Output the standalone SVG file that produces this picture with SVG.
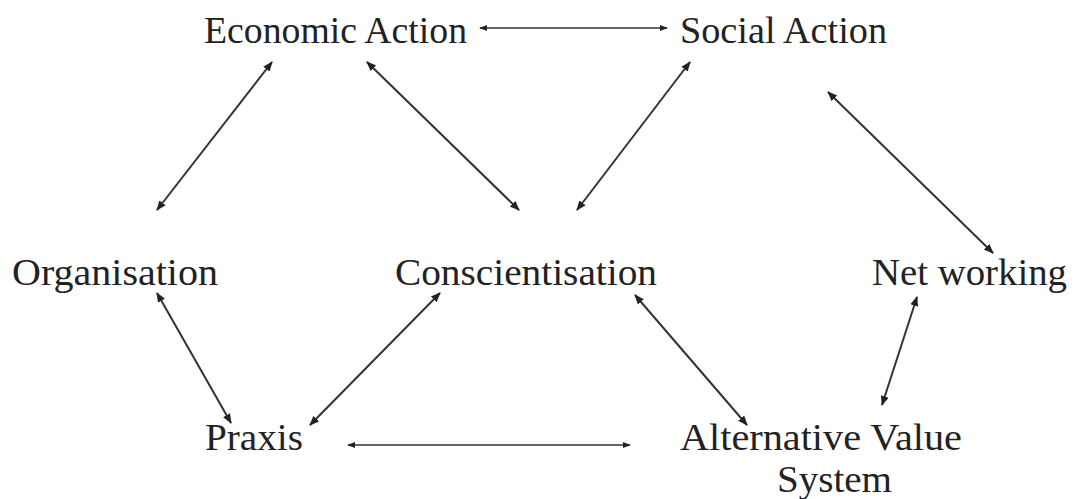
<svg xmlns="http://www.w3.org/2000/svg" width="1085" height="499" viewBox="0 0 1085 499">
<style>
text{font-family:"Liberation Serif","DejaVu Serif",serif;font-size:37px;fill:#222}
.c line{stroke:#333;stroke-width:2;marker-start:url(#a);marker-end:url(#a)}
</style>
<defs>
<marker id="a" viewBox="0 0 10 10" refX="9" refY="5" markerWidth="5" markerHeight="5" orient="auto-start-reverse" markerUnits="strokeWidth"><path d="M0,1L10,5L0,9Z" fill="#222"/></marker>
</defs>
<rect width="1085" height="499" fill="#fff"/>
<g id="economic"><text x="204" y="43" textLength="263" lengthAdjust="spacingAndGlyphs">Economic Action</text></g>
<g id="social"><text x="680" y="43" textLength="207" lengthAdjust="spacingAndGlyphs">Social Action</text></g>
<g id="organisation"><text x="12" y="285" textLength="206" lengthAdjust="spacingAndGlyphs">Organisation</text></g>
<g id="conscientisation"><text x="395" y="285" textLength="262" lengthAdjust="spacingAndGlyphs">Conscientisation</text></g>
<g id="networking"><text x="872" y="285" textLength="195" lengthAdjust="spacingAndGlyphs">Net working</text></g>
<g id="praxis"><text x="205" y="450" textLength="98" lengthAdjust="spacingAndGlyphs">Praxis</text></g>
<g id="avs"><text x="680" y="450" textLength="282" lengthAdjust="spacingAndGlyphs">Alternative Value</text><text x="777" y="492" textLength="115" lengthAdjust="spacingAndGlyphs">System</text></g>
<g class="c" id="connectors">
<line x1="480" y1="28" x2="667" y2="28" style="stroke-width:1.6"/>
<line x1="272" y1="62" x2="157" y2="210"/>
<line x1="367" y1="62" x2="519" y2="210"/>
<line x1="690" y1="62" x2="577" y2="210"/>
<line x1="828" y1="92" x2="993" y2="253"/>
<line x1="157" y1="293" x2="231" y2="423"/>
<line x1="440" y1="293" x2="310" y2="425"/>
<line x1="348" y1="445" x2="630" y2="445" style="stroke-width:1.6"/>
<line x1="635" y1="295" x2="747" y2="425"/>
<line x1="917" y1="297" x2="882" y2="405"/>
</g>
</svg>
